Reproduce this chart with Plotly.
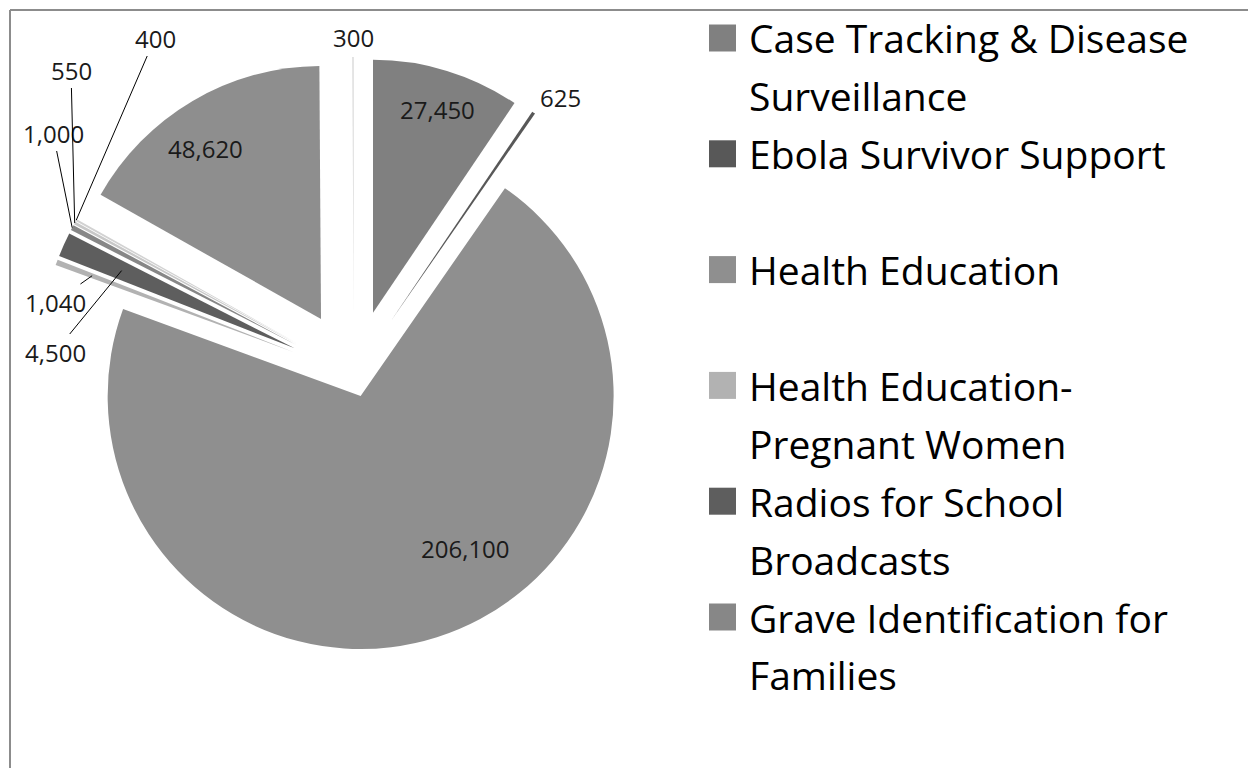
import math
import textwrap
import plotly.graph_objects as go

# ---- data ----
categories = [
    "Case Tracking & Disease Surveillance",
    "Ebola Survivor Support",
    "Health Education",
    "Health Education-Pregnant Women",
    "Radios for School Broadcasts",
    "Grave Identification for Families",
    "Other Support A",
    "Other Support B",
    "Other Support C",
    "Other Support D",
]
values = [27450, 625, 206100, 1040, 4500, 1000, 550, 400, 48620, 300]
legend_count = 6  # only the first six entries are visible in the legend

# ---- styles ----
colors = ["#808080", "#585858", "#8f8f8f", "#b2b2b2", "#5e5e5e",
          "#878787", "#c8c8c8", "#d2d2d2", "#8e8e8e", "#dedede"]
pulls = [0.257, 0.257, 0.087, 0.257, 0.257, 0.257, 0.257, 0.257, 0.257, 0.257]
# data-label placement (pixel centre of each label) and leader-line target
# (fraction of the radius along the slice bisector; None = no leader line)
label_xy = [(437, 110), (560, 97), (465, 548), (55, 302), (55, 352),
            (53, 133), (71, 70), (155, 38), (205, 148), (353, 38)]
leader_r = [None, None, None, 0.85, 0.75, 1.0, 1.0, 1.0, None, None]

W, H = 1248, 768
FONT = "Open Sans"
DOM_X = [36, 672]   # pie domain in pixels
DOM_Y = [57, 693]   # pie domain in pixels (from top)

fig = go.Figure()
fig.add_trace(go.Pie(
    labels=categories,
    values=values,
    sort=False,
    direction="clockwise",
    rotation=0,
    pull=pulls,
    marker=dict(colors=colors, line=dict(width=0)),
    textinfo="none",
    domain=dict(x=[DOM_X[0] / W, DOM_X[1] / W],
                y=[(H - DOM_Y[1]) / H, (H - DOM_Y[0]) / H]),
    showlegend=False,
    automargin=False,
    hoverinfo="label+value",
))

annotations = []
shapes = []

# ---- data labels (text taken from the values list) ----
cx = (DOM_X[0] + DOM_X[1]) / 2
cy = (DOM_Y[0] + DOM_Y[1]) / 2
max_pull = max(pulls)
radius = min(DOM_X[1] - DOM_X[0], DOM_Y[1] - DOM_Y[0]) / (2 + 2 * max_pull)
total = sum(values)
cum = 0
for i, v in enumerate(values):
    mid = (cum + v / 2) / total * 2 * math.pi
    cum += v
    tx, ty = label_xy[i]
    txt = f"{v:,}"
    font = dict(family=FONT, size=24, color="#1a1a1a")
    if leader_r[i] is None:
        annotations.append(dict(
            text=txt, xref="paper", yref="paper", x=tx / W, y=1 - ty / H,
            xanchor="center", yanchor="middle", showarrow=False, font=font))
    else:
        dist = radius * (pulls[i] + leader_r[i])
        px = cx + dist * math.sin(mid)
        py = cy - dist * math.cos(mid)
        annotations.append(dict(
            text=txt, xref="paper", yref="paper", x=px / W, y=1 - py / H,
            ax=tx - px, ay=ty - py, showarrow=True, arrowhead=0,
            arrowwidth=1, arrowcolor="#000000", standoff=0, font=font))

# ---- custom legend (Excel-style, two line slots per entry) ----
line_pitch = 57.9
y_first = 38
sq_w, sq_h = 27, 27
for i in range(legend_count):
    lines = textwrap.wrap(categories[i], width=24, break_on_hyphens=True)
    yc = y_first + 2 * i * line_pitch
    shapes.append(dict(
        type="rect", xref="paper", yref="paper",
        x0=709 / W, x1=(709 + sq_w) / W,
        y0=1 - (yc - sq_h / 2) / H, y1=1 - (yc + sq_h / 2) / H,
        fillcolor=colors[i], line=dict(width=0),
    ))
    for k, ln in enumerate(lines):
        annotations.append(dict(
            text=ln, xref="paper", yref="paper",
            x=747 / W, y=1 - (yc + k * line_pitch) / H,
            xanchor="left", yanchor="middle", showarrow=False,
            font=dict(family=FONT, size=39, color="#000000"),
        ))

# chart frame (left and top edges visible)
shapes.append(dict(type="line", xref="paper", yref="paper",
                   x0=10 / W, x1=10 / W, y0=1 - 10 / H, y1=0,
                   line=dict(color="#8c8c8c", width=2)))
shapes.append(dict(type="line", xref="paper", yref="paper",
                   x0=10 / W, x1=1, y0=1 - 10 / H, y1=1 - 10 / H,
                   line=dict(color="#8c8c8c", width=2)))

fig.update_layout(
    width=W, height=H,
    autosize=False,
    margin=dict(l=0, r=0, t=0, b=0, pad=0, autoexpand=False),
    paper_bgcolor="white",
    plot_bgcolor="white",
    annotations=annotations,
    shapes=shapes,
    font=dict(family=FONT),
    xaxis=dict(visible=False),
    yaxis=dict(visible=False),
)

fig.write_html("out.html")
